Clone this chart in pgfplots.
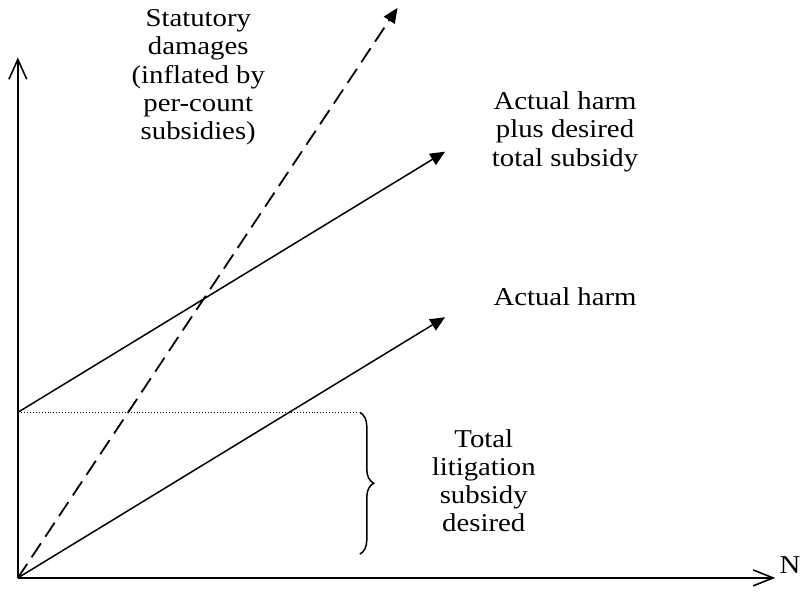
\documentclass[border=0pt]{standalone}
\usepackage{fontspec}
\setmainfont[FakeStretch=1.12]{Liberation Serif}
\usepackage{pgfplots}
\pgfplotsset{compat=1.18}
\usetikzlibrary{arrows.meta,decorations.pathreplacing}
\begin{document}
\begin{tikzpicture}
\begin{axis}[
  scale only axis, width=809bp, height=599bp,
  xmin=0, xmax=809, ymin=0, ymax=599,
  axis lines=none, clip=false,
]
\addplot[draw=none] coordinates {(0,0) (809,599)};
% axes
\addplot[line width=2bp, -{Straight Barb[length=20bp,width=18bp,line width=1.6bp]}] coordinates {(18,16) (18,541)};
\addplot[line width=2bp, -{Straight Barb[length=20bp,width=16bp,line width=1.6bp]}] coordinates {(18,16) (782,16)};
% lines
\addplot[line width=1.8bp, dash pattern=on 17bp off 8bp, -{Triangle[length=15bp,width=13bp]}] coordinates {(18,16) (401,591)};
\addplot[line width=1.5bp, -{Triangle[length=15bp,width=13bp]}] coordinates {(18,183) (449,446)};
\addplot[line width=1.5bp, -{Triangle[length=15bp,width=13bp]}] coordinates {(18,16) (449,279)};
\addplot[line width=1bp, dotted] coordinates {(18,183) (360,183)};
\draw[line width=1.5bp, decorate, decoration={brace, amplitude=14bp}] (axis cs:363,183) -- (axis cs:363,40);
% labels
\fontsize{26}{28.5}\selectfont
\node[align=center] at (axis cs:200,521) {Statutory\\damages\\(inflated by\\per-count\\subsidies)};
\node[align=center] at (axis cs:570,466) {Actual harm\\plus desired\\total subsidy};
\node[align=center] at (axis cs:570,300) {Actual harm};
\node[align=center] at (axis cs:488,114) {Total\\litigation\\subsidy\\desired};
\node at (axis cs:797,29) {N};
\end{axis}
\end{tikzpicture}
\end{document}
